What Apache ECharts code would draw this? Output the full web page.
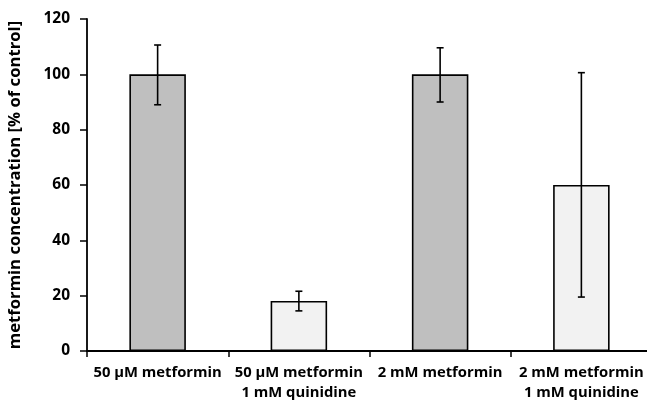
<!DOCTYPE html>
<html>
<head>
<meta charset="utf-8">
<script src="https://cdn.jsdelivr.net/npm/echarts@6/dist/echarts.min.js"></script>
<style>
html,body{margin:0;padding:0;background:#fff;}
#chart{width:647px;height:403px;}
</style>
</head>
<body>
<div id="chart"></div>
<script>
var categories = ["50 µM metformin", "50 µM metformin\n1 mM quinidine", "2 mM metformin", "2 mM metformin\n1 mM quinidine"];
var values = [100, 18.1, 100, 60.0];
var errUpper = [110.6, 21.6, 109.6, 100.6];
var errLower = [89.0, 14.5, 90.0, 19.5];
var barColors = ["#bfbfbf", "#f2f2f2", "#bfbfbf", "#f2f2f2"];
var yTicks = [0, 20, 40, 60, 80, 100, 120];

var FONT = "Open Sans";
var chart = echarts.init(document.getElementById('chart'), null, {renderer: 'canvas'});

var barData = values.map(function (v, i) {
  return {value: v, itemStyle: {color: barColors[i]}};
});
var errData = values.map(function (v, i) {
  return [i, errLower[i], errUpper[i]];
});

chart.setOption({
  animation: false,
  backgroundColor: '#ffffff',
  grid: {left: 87, top: 19, width: 565, height: 332, containLabel: false, outerBoundsMode: 'none'},
  xAxis: {
    type: 'category',
    data: categories,
    boundaryGap: true,
    axisLine: {show: true, lineStyle: {color: '#000', width: 1.8}},
    axisTick: {show: true, length: 6, lineStyle: {color: '#000', width: 1.5}},
    axisLabel: {
      interval: 0, margin: 12, color: '#000',
      fontFamily: FONT, fontWeight: 'bold', fontSize: 14.8, lineHeight: 20, align: 'center'
    },
    splitLine: {show: false}
  },
  yAxis: {
    type: 'value',
    min: yTicks[0], max: yTicks[yTicks.length - 1], interval: 20,
    axisLine: {show: true, lineStyle: {color: '#000', width: 1.8}},
    axisTick: {show: true, length: 7, lineStyle: {color: '#000', width: 1.5}},
    axisLabel: {margin: 17, color: '#000', fontFamily: FONT, fontWeight: 'bold', fontSize: 15.5},
    splitLine: {show: false},
    name: 'metformin concentration [% of control]',
    nameLocation: 'middle',
    nameGap: 63,
    nameTextStyle: {color: '#000', fontFamily: FONT, fontWeight: 'bold', fontSize: 16.7}
  },
  series: [
    {
      type: 'bar',
      data: barData,
      barWidth: '40%',
      itemStyle: {borderColor: '#000', borderWidth: 1.6}
    },
    {
      type: 'custom',
      data: errData,
      z: 10,
      renderItem: function (params, api) {
        var x = api.value(0);
        var lo = api.coord([x, api.value(1)]);
        var hi = api.coord([x, api.value(2)]);
        var cap = 3.5;
        var style = {stroke: '#000', lineWidth: 1.6, fill: null};
        return {
          type: 'group',
          children: [
            {type: 'line', shape: {x1: hi[0], y1: hi[1], x2: lo[0], y2: lo[1]}, style: style},
            {type: 'line', shape: {x1: hi[0] - cap, y1: hi[1], x2: hi[0] + cap, y2: hi[1]}, style: style},
            {type: 'line', shape: {x1: lo[0] - cap, y1: lo[1], x2: lo[0] + cap, y2: lo[1]}, style: style}
          ]
        };
      }
    }
  ]
});
</script>
</body>
</html>
